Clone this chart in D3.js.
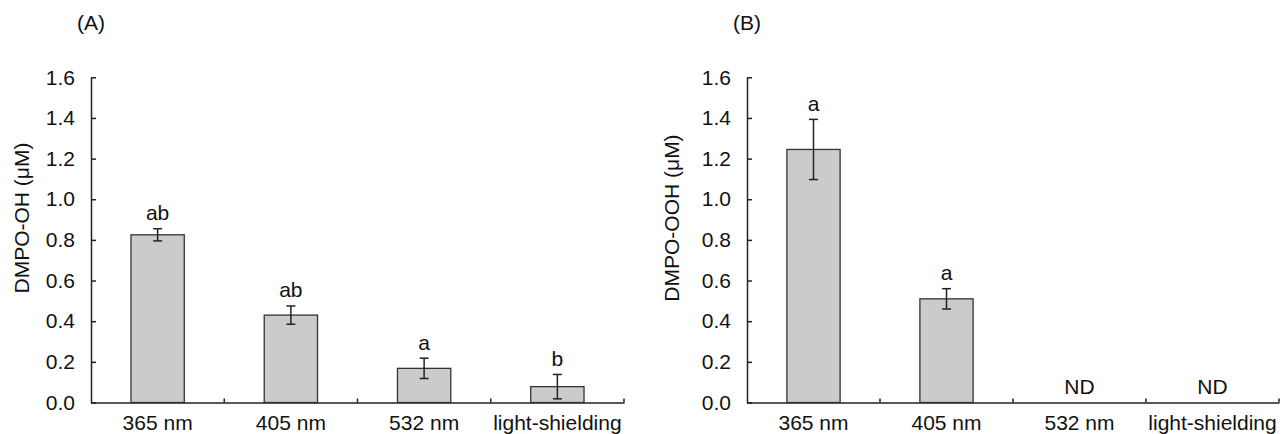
<!DOCTYPE html>
<html>
<head>
<meta charset="utf-8">
<script src="https://cdn.jsdelivr.net/npm/d3@7"></script>
<style>
  body { margin: 0; background: #fff; }
  svg { display: block; }
  text { font-family: "Liberation Sans", Arial, sans-serif; fill: #111; }
</style>
</head>
<body>
<div id="chart"></div>
<script>
// data
var categories = ["365 nm", "405 nm", "532 nm", "light-shielding"];
var ohMeans = [0.825, 0.43, 0.168, 0.078];
var ohErrors = [0.03, 0.045, 0.05, 0.06];
var ohLetters = ["ab", "ab", "a", "b"];
var oohMeans = [1.245, 0.51, null, null];
var oohErrors = [0.148, 0.05, null, null];
var oohLetters = ["a", "a", "ND", "ND"];
var yTicks = [0, 0.2, 0.4, 0.6, 0.8, 1.0, 1.2, 1.4, 1.6];

var width = 1288, height = 434;
var fontSize = 21;

var svg = d3.select("#chart")
    .append("svg")
    .attr("width", width)
    .attr("height", height);

var y = d3.scaleLinear().domain([0, 1.6]).range([402.5, 77.3]);

function drawPanel(opts) {
    var g = svg.append("g");

    var x = d3.scaleBand()
        .domain(categories)
        .range([opts.left, opts.right])
        .paddingInner(0.6)
        .paddingOuter(0.3);

    // y axis, ticks pointing inward
    var yAxis = d3.axisLeft(y)
        .tickValues(yTicks)
        .tickFormat(d3.format(".1f"))
        .tickSizeInner(-5)
        .tickSizeOuter(0)
        .tickPadding(16);

    var ya = g.append("g")
        .attr("transform", "translate(" + opts.left + ",0)")
        .call(yAxis);
    ya.selectAll("text").style("font-size", fontSize + "px").attr("fill", "#111");
    ya.selectAll("path, line").attr("stroke", "#222").attr("stroke-width", 1.5);

    // x axis labels
    var xAxis = d3.axisBottom(x).tickSize(0).tickPadding(13);
    var xa = g.append("g")
        .attr("transform", "translate(0," + y(0) + ")")
        .call(xAxis);
    xa.select(".domain").attr("stroke", "#222").attr("stroke-width", 1.5);
    xa.selectAll("text").style("font-size", fontSize + "px").attr("fill", "#111");

    // tick marks between categories
    var bounds = d3.range(1, categories.length + 1).map(function(i) {
        return opts.left + i * x.step();
    });
    g.selectAll(".xtick")
        .data(bounds)
        .enter().append("line")
        .attr("class", "xtick")
        .attr("x1", function(d) { return d; })
        .attr("x2", function(d) { return d; })
        .attr("y1", y(0))
        .attr("y2", y(0) - 4)
        .attr("stroke", "#222")
        .attr("stroke-width", 1.5);

    var rows = categories.map(function(c, i) {
        return { cat: c, mean: opts.means[i], err: opts.errors[i], letter: opts.letters[i] };
    });

    var withData = rows.filter(function(d) { return d.mean !== null; });

    // bars
    g.selectAll(".bar")
        .data(withData)
        .enter().append("rect")
        .attr("class", "bar")
        .attr("x", function(d) { return x(d.cat); })
        .attr("width", x.bandwidth())
        .attr("y", function(d) { return y(d.mean); })
        .attr("height", function(d) { return y(0) - y(d.mean); })
        .attr("fill", "#cbcbcb")
        .attr("stroke", "#333")
        .attr("stroke-width", 1.3);

    // error bars
    var eb = g.selectAll(".err")
        .data(withData)
        .enter().append("g")
        .attr("class", "err")
        .attr("stroke", "#222")
        .attr("stroke-width", 1.5);
    var cx = function(d) { return x(d.cat) + x.bandwidth() / 2; };
    eb.append("line")
        .attr("x1", cx).attr("x2", cx)
        .attr("y1", function(d) { return y(d.mean + d.err); })
        .attr("y2", function(d) { return y(d.mean - d.err); });
    eb.append("line")
        .attr("x1", function(d) { return cx(d) - 4.5; })
        .attr("x2", function(d) { return cx(d) + 4.5; })
        .attr("y1", function(d) { return y(d.mean + d.err); })
        .attr("y2", function(d) { return y(d.mean + d.err); });
    eb.append("line")
        .attr("x1", function(d) { return cx(d) - 4.5; })
        .attr("x2", function(d) { return cx(d) + 4.5; })
        .attr("y1", function(d) { return y(d.mean - d.err); })
        .attr("y2", function(d) { return y(d.mean - d.err); });

    // significance letters / ND
    g.selectAll(".letter")
        .data(rows)
        .enter().append("text")
        .attr("class", "letter")
        .attr("x", cx)
        .attr("y", function(d) {
            var top = d.mean === null ? 0 : d.mean + d.err;
            return y(top) - 8.5;
        })
        .attr("text-anchor", "middle")
        .style("font-size", fontSize + "px")
        .text(function(d) { return d.letter; });

    // y axis title
    g.append("text")
        .attr("transform", "translate(" + opts.titleX + ",218) rotate(-90)")
        .attr("text-anchor", "middle")
        .attr("dy", "0.35em")
        .style("font-size", fontSize + "px")
        .text(opts.yTitle);

    // panel letter
    g.append("text")
        .attr("x", opts.left - 14)
        .attr("y", 30)
        .style("font-size", fontSize + "px")
        .text(opts.tag);
}

drawPanel({
    left: 91, right: 624,
    means: ohMeans, errors: ohErrors, letters: ohLetters,
    yTitle: "DMPO-OH (μM)", titleX: 22, tag: "(A)"
});

drawPanel({
    left: 747, right: 1279,
    means: oohMeans, errors: oohErrors, letters: oohLetters,
    yTitle: "DMPO-OOH (μM)", titleX: 672, tag: "(B)"
});
</script>
</body>
</html>
